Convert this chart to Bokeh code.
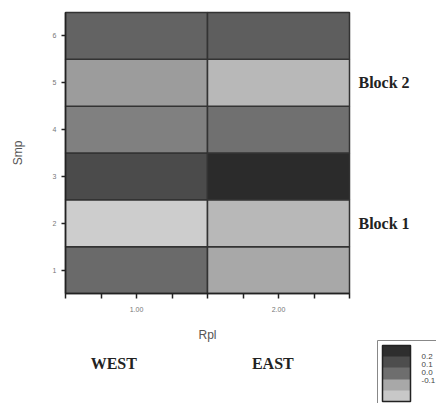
from bokeh.plotting import figure
from bokeh.models import (ColumnDataSource, LinearColorMapper, ColorBar, FixedTicker,
                          PrintfTickFormatter, Label, Range1d, AllLabels, LinearAxis)
from bokeh.embed import file_html
from bokeh.resources import INLINE

# Sample-by-replicate values
rpl = [1, 2]
rpl_names = ["WEST", "EAST"]
smp = [1, 2, 3, 4, 5, 6]
west = [0.092, -0.136, 0.164, 0.041, -0.024, 0.108]
east = [-0.052, -0.090, 0.238, 0.078, -0.090, 0.120]
blocks = [("Block 1", 2), ("Block 2", 5)]
legend_ticks = [-0.1, 0.0, 0.1, 0.2]

LOW, HIGH = -0.15, 0.25
# grey ramp: light for low values, dark for high values
grey_ramp = ["#%02x%02x%02x" % (g, g, g)
             for g in [int(round(210 - 172 * i / 255)) for i in range(256)]]

xs, ys, vs = [], [], []
for r, col in zip(rpl, [west, east]):
    for s, v in zip(smp, col):
        xs.append(r)
        ys.append(s)
        vs.append(v)
src = ColumnDataSource(dict(x=xs, y=ys, v=vs))

mapper = LinearColorMapper(palette=grey_ramp, low=LOW, high=HIGH)

# page geometry: heat map occupies px 65..349 (x) and 12..293 (y)
W, H = 436, 403
L_PX, R_PX, T_PX, B_PX = 65, 349, 12, 293
x0, x1 = 0.5, 2.5
y0, y1 = 0.5, 6.5
kx = (x1 - x0) / (R_PX - L_PX)
ky = (y1 - y0) / (B_PX - T_PX)
x_range = Range1d(x0 - L_PX * kx, x1 + (W - R_PX) * kx)
y_range = Range1d(y0 - (H - B_PX) * ky, y1 + T_PX * ky)

p = figure(width=W, height=H, output_backend="svg", toolbar_location=None,
           x_range=x_range, y_range=y_range,
           x_axis_location=None, y_axis_location=None,
           min_border=0)
p.title = None
p.grid.visible = False
p.background_fill_color = "white"
p.border_fill_color = "white"
p.outline_line_color = None

p.rect(x="x", y="y", width=1, height=1, source=src,
       fill_color={"field": "v", "transform": mapper},
       line_color="#333333", line_width=1.5)

label_font = "Liberation Sans"

xa = LinearAxis(fixed_location=y0, bounds=(x0, x1))
xa.ticker = FixedTicker(ticks=[1, 2], minor_ticks=[0.5, 0.75, 1.25, 1.5, 1.75, 2.25, 2.5])
xa.formatter = PrintfTickFormatter(format="%.2f")
xa.axis_label = "Rpl"
xa.axis_label_text_font = label_font
xa.axis_label_text_font_style = "normal"
xa.axis_label_text_font_size = "12px"
xa.axis_label_text_color = "#555555"
xa.axis_label_standoff = 13
xa.major_label_text_font = label_font
xa.major_label_text_font_size = "7px"
xa.major_label_text_color = "#777777"
xa.major_label_standoff = 8
xa.major_tick_in = 0
xa.major_tick_out = 5
xa.minor_tick_in = 0
xa.minor_tick_out = 5
xa.axis_line_color = "#222222"
xa.axis_line_width = 1.5
xa.major_tick_line_color = "#222222"
xa.minor_tick_line_color = "#222222"
xa.major_tick_line_width = 1.5
xa.minor_tick_line_width = 1.5
p.add_layout(xa, "below")

ya = LinearAxis(fixed_location=x0, bounds=(y0, y1))
ya.ticker = FixedTicker(ticks=smp)
ya.axis_label = "Smp"
ya.axis_label_text_font = label_font
ya.axis_label_text_font_style = "normal"
ya.axis_label_text_font_size = "12px"
ya.axis_label_text_color = "#555555"
ya.axis_label_standoff = 25
ya.major_label_text_font = label_font
ya.major_label_text_font_size = "7px"
ya.major_label_text_color = "#777777"
ya.major_label_standoff = 5
ya.major_tick_in = 0
ya.major_tick_out = 4
ya.minor_tick_line_color = None
ya.axis_line_color = "#222222"
ya.axis_line_width = 1.5
ya.major_tick_line_color = "#222222"
ya.major_tick_line_width = 1.5
p.add_layout(ya, "left")

serif = "Liberation Serif"
for name, yv in blocks:
    p.add_layout(Label(x=x1 + 9 * kx, y=yv, text=name, text_font=serif,
                       text_font_style="bold", text_font_size="16px",
                       text_color="#222222", text_baseline="middle",
                       text_align="left"))
for name, xv in zip(rpl_names, [0.84, 1.96]):
    p.add_layout(Label(x=xv, y=y0 - 70 * ky, text=name, text_font=serif,
                       text_font_style="bold", text_font_size="16px",
                       text_color="#222222", text_baseline="middle",
                       text_align="center"))

# stepped grey key
key_mapper = LinearColorMapper(
    palette=["#c8c8c8", "#a8a8a8", "#6e6e6e", "#4d4d4d", "#2e2e2e"],
    low=-0.37, high=0.34)
cb = ColorBar(color_mapper=key_mapper, ticker=FixedTicker(ticks=legend_ticks),
              formatter=PrintfTickFormatter(format="%.1f"),
              major_label_policy=AllLabels(),
              width=28, height=56, padding=5, label_standoff=11,
              location=(377, -3),
              major_label_text_font=label_font,
              major_label_text_font_size="8px",
              major_label_text_color="#444444",
              major_tick_line_color=None,
              bar_line_color="#222222", bar_line_width=1.5,
              border_line_color="#888888", border_line_width=1,
              background_fill_color="white")
p.add_layout(cb, "center")

open("out.html", "w").write(file_html(p, INLINE))
